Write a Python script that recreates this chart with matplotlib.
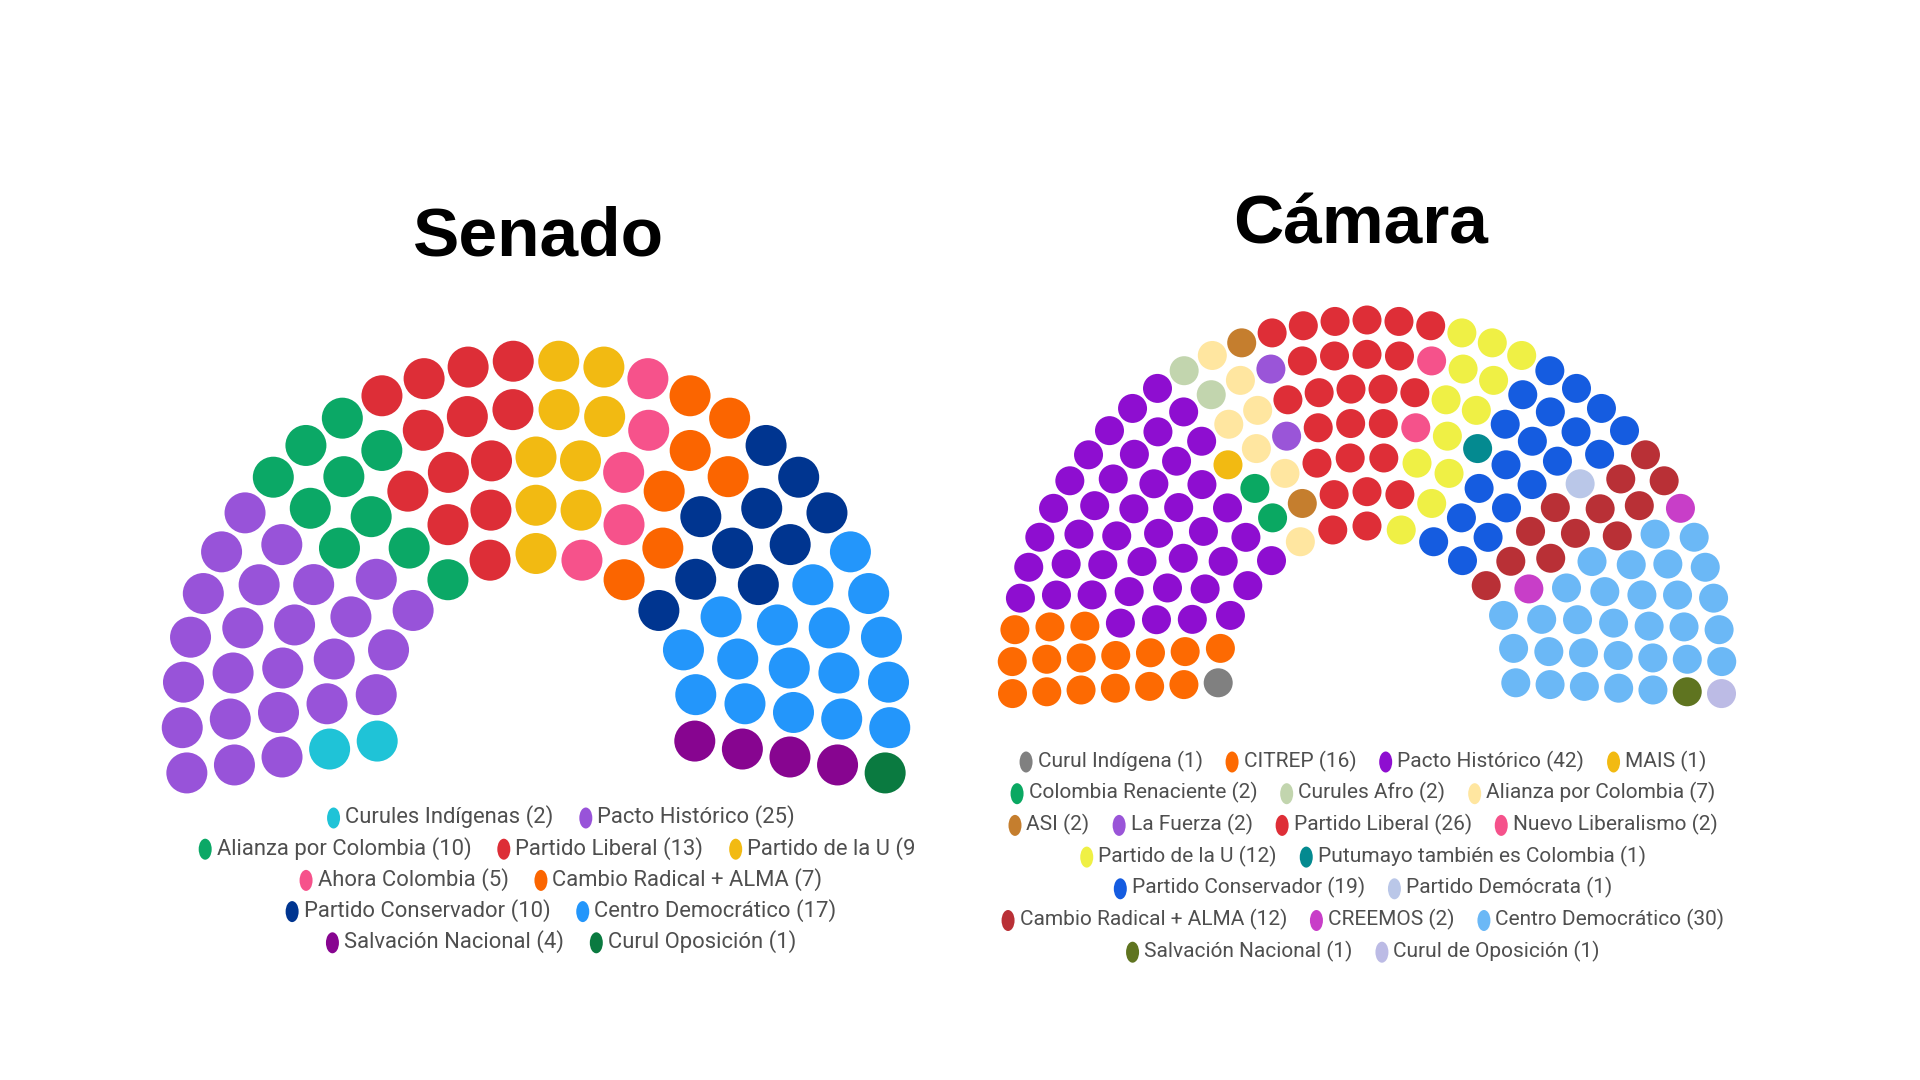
import numpy as np
import matplotlib
matplotlib.use("Agg")
import matplotlib.pyplot as plt
from matplotlib.patches import Circle, Ellipse
from matplotlib.transforms import Bbox, TransformedBbox
import matplotlib.font_manager as fm

# ---------------- data ----------------
senado_title = "Senado"
senado_parties = ["Curules Indígenas", "Pacto Histórico", "Alianza por Colombia",
                  "Partido Liberal", "Partido de la U", "Ahora Colombia",
                  "Cambio Radical + ALMA", "Partido Conservador", "Centro Democrático",
                  "Salvación Nacional", "Curul Oposición"]
senado_seats = [2, 25, 10, 13, 9, 5, 7, 10, 17, 4, 1]
senado_colors = ["#1FC3D7", "#9853D9", "#0BA866", "#DD2E37", "#F2BA12", "#F6528B",
                 "#FB6500", "#003590", "#2396FB", "#870590", "#0A7A40"]
senado_legend_rows = [2, 3, 2, 2, 2]

camara_title = "Cámara"
camara_parties = ["Curul Indígena", "CITREP", "Pacto Histórico", "MAIS",
                  "Colombia Renaciente", "Curules Afro", "Alianza por Colombia",
                  "ASI", "La Fuerza", "Partido Liberal", "Nuevo Liberalismo",
                  "Partido de la U", "Putumayo también es Colombia",
                  "Partido Conservador", "Partido Demócrata", "Cambio Radical + ALMA",
                  "CREEMOS", "Centro Democrático", "Salvación Nacional",
                  "Curul de Oposición"]
camara_seats = [1, 16, 42, 1, 2, 2, 7, 2, 2, 26, 2, 12, 1, 19, 1, 12, 2, 30, 1, 1]
camara_colors = ["#808080", "#FD6A02", "#8E0ED0", "#F2BA12", "#0AA862", "#C2D5AE",
                 "#FFE6A0", "#C57E2E", "#9A55D8", "#DE2E37", "#F5528B", "#EFF045",
                 "#048A90", "#155CE0", "#BAC7E8", "#B93036", "#C83EC8", "#6BB8F6",
                 "#5F7420", "#BCBBE5"]
camara_legend_rows = [4, 3, 4, 2, 2, 3, 2]

# ---------------- fonts ----------------
avail = {f.name for f in fm.fontManager.ttflist}
LEG_FONT = "Liberation Sans Narrow" if "Liberation Sans Narrow" in avail else "Roboto"
TITLE_FONT = "Liberation Sans"
TEXT_COLOR = "#4f4f4f"


def row_counts(total, radii):
    raw = total * radii / radii.sum()
    counts = np.round(raw).astype(int)
    diff = total - counts.sum()
    while diff != 0:
        frac = raw - counts
        if diff > 0:
            i = int(np.argmax(frac)); counts[i] += 1; diff -= 1
        else:
            i = int(np.argmin(frac)); counts[i] -= 1; diff += 1
    return counts


def seat_positions(total, n_rows, cx, cy, r_in, r_out, overhang):
    radii = np.linspace(r_in, r_out, n_rows)
    counts = row_counts(total, radii)
    seats = []
    for k, (r, n) in enumerate(zip(radii, counts)):
        angs = np.linspace(180 + overhang, -overhang, n)
        for a in angs:
            seats.append((round(-a, 6), k,
                          cx + r * np.cos(np.radians(a)),
                          cy - r * np.sin(np.radians(a))))
    seats.sort(key=lambda s: (s[0], s[1]))
    return [(s[2], s[3]) for s in seats]


def draw_parliament(ax, seats, colors, n_rows, cx, cy, r_in, r_out, overhang, diam):
    pos = seat_positions(sum(seats), n_rows, cx, cy, r_in, r_out, overhang)
    cols = np.repeat(np.array(colors), seats)
    for (x, y), c in zip(pos, cols):
        ax.add_patch(Circle((x, y), diam / 2, facecolor=c, edgecolor="none"))


def draw_legend(ax, renderer, names, seats, colors, rows, cx, y0, dy, fs, isep,
                clip_last_paren=False):
    labels = [f"{n} ({s})" for n, s in zip(names, seats)]
    MW, MH, GAP = 13, 21, 5
    idx = 0
    all_texts = []
    ends = []
    for li, nrow in enumerate(rows):
        y = y0 + li * dy
        items = list(range(idx, idx + nrow))
        idx += nrow
        texts, widths = [], []
        for i in items:
            t = ax.text(0, y, labels[i], fontsize=fs, family=LEG_FONT,
                        color=TEXT_COLOR, va="center", ha="left")
            widths.append(t.get_window_extent(renderer).width)
            texts.append(t)
        total = sum(MW + GAP + w for w in widths) + isep * (nrow - 1)
        x = cx - total / 2
        for i, t, w in zip(items, texts, widths):
            ax.add_patch(Ellipse((x + MW / 2, y + 1), MW, MH,
                                 facecolor=colors[i], edgecolor="none"))
            t.set_x(x + MW + GAP)
            x += MW + GAP + w + isep
        ends.append(x - isep)
        all_texts.extend(texts)
    if clip_last_paren:
        p = ax.text(0, 0, ")", fontsize=fs, family=LEG_FONT)
        pw = p.get_window_extent(renderer).width
        p.remove()
        right = max(ends) - pw * 0.9
        bb = TransformedBbox(Bbox([[0, 0], [right, 1080]]), ax.transData)
        for t in all_texts:
            t.set_clip_box(bb)
            t.set_clip_on(True)


fig = plt.figure(figsize=(19.2, 10.8), dpi=100)
ax = fig.add_axes([0, 0, 1, 1])
ax.set_xlim(0, 1920)
ax.set_ylim(1080, 0)
ax.axis("off")
renderer = fig.canvas.get_renderer()

# titles
ax.text(539, 256, senado_title, fontsize=50, fontweight="bold", family=TITLE_FONT,
        ha="center", va="baseline", color="black")
ax.text(1361, 243, camara_title, fontsize=50, fontweight="bold", family=TITLE_FONT,
        ha="center", va="baseline", color="black")

# parliaments
draw_parliament(ax, senado_seats, senado_colors, 5, 536, 714.5, 161, 354, 9.5, 41)
draw_parliament(ax, camara_seats, camara_colors, 7, 1367, 675, 149, 355, 3.0, 29)

# legends
draw_legend(ax, renderer, senado_parties, senado_seats, senado_colors,
            senado_legend_rows, 561, 817, 31.2, 15.8, 26, clip_last_paren=True)
draw_legend(ax, renderer, camara_parties, camara_seats, camara_colors,
            camara_legend_rows, 1363, 761, 31.7, 15.0, 23)

fig.savefig("out.png", dpi=100, facecolor="white")
